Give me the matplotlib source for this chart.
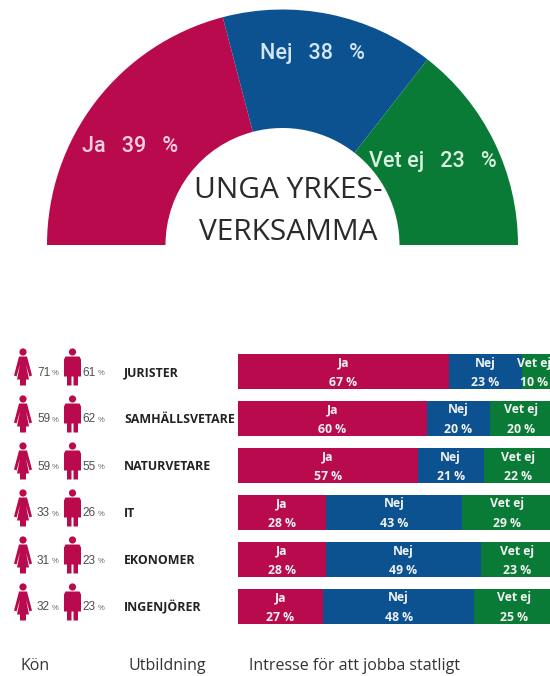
import matplotlib
matplotlib.use('Agg')
import matplotlib.pyplot as plt
from matplotlib.patches import Circle, Polygon, Wedge

# half circle, the slices in the picture are not drawn to their labels
arc_labels = ['Ja   39   %', 'Nej   38   %', 'Vet ej   23   %']
arc_spans = [75.3, 52.7, 52]
arc_colors = ['#b90a4d', '#0c5291', '#0a7b37']
arc_text_colors = ['#f6cfe0', '#d3e6f5', '#d9f1de']

fields = ['JURISTER', 'SAMHÄLLSVETARE', 'NATURVETARE', 'IT', 'EKONOMER', 'INGENJÖRER']
women = [71, 59, 59, 33, 31, 32]
men = [61, 62, 55, 26, 23, 23]
ja = [67, 60, 57, 28, 28, 27]
nej = [23, 20, 21, 43, 49, 48]
vet_ej = [10, 20, 22, 29, 23, 25]

bar_names = ['Ja', 'Nej', 'Vet ej']
headers = ['Kön', 'Utbildning', 'Intresse för att jobba statligt']

W, H = 550, 676
SANS = 'Open Sans'
ICON_COLOR = '#b90a4d'

fig = plt.figure(figsize=(W / 100, H / 100), dpi=100)

# pixel canvas for the text and the icons
bg = fig.add_axes([0, 0, 1, 1])
bg.set_xlim(0, W)
bg.set_ylim(H, 0)
bg.axis('off')

# half circle
angle = 180
for span, color in zip(arc_spans, arc_colors):
    bg.add_patch(Wedge((282.5, 245), 235.5, -angle, -angle + span, width=118.5,
                       facecolor=color, edgecolor='none'))
    angle -= span

arc_text_pos = [(130, 147), (312, 53), (433, 162)]
for label, pos, color in zip(arc_labels, arc_text_pos, arc_text_colors):
    bg.text(pos[0], pos[1], label, color=color, fontsize=15.5, family='Roboto',
            fontweight='medium', ha='center', va='center')

bg.text(288, 191, 'UNGA YRKES-', color='#2a2a2a', fontsize=21.5, family=SANS,
        ha='center', va='center')
bg.text(288, 232, 'VERKSAMMA', color='#2a2a2a', fontsize=21.5, family=SANS,
        ha='center', va='center')


def woman(x, y):
    bg.add_patch(Circle((x, y - 19.5), 3.6, color=ICON_COLOR, lw=0))
    bg.add_patch(Polygon([(x - 4, y - 15), (x + 4, y - 15), (x + 9, y + 4), (x + 6.5, y + 5),
                          (x + 3, y - 7), (x + 6, y + 8), (x + 3, y + 8), (x + 3, y + 14),
                          (x - 3, y + 14), (x - 3, y + 8), (x - 6, y + 8), (x - 3, y - 7),
                          (x - 6.5, y + 5), (x - 9, y + 4)], color=ICON_COLOR, lw=0))


def man(x, y):
    bg.add_patch(Circle((x, y - 19.5), 3.6, color=ICON_COLOR, lw=0))
    bg.add_patch(Polygon([(x - 7, y - 15), (x + 7, y - 15), (x + 8.5, y - 12), (x + 8.5, y + 5),
                          (x + 5.5, y + 5), (x + 5.5, y + 14), (x + 1, y + 14), (x + 1, y + 5),
                          (x - 1, y + 5), (x - 1, y + 14), (x - 5.5, y + 14), (x - 5.5, y + 5),
                          (x - 8.5, y + 5), (x - 8.5, y - 12)], color=ICON_COLOR, lw=0))


rows = [371.5 + i * 47 for i in range(len(fields))]

for i, name in enumerate(fields):
    y = rows[i]
    woman(23, y)
    bg.text(37, y + 1, str(women[i]), color='#4d4d4d', fontsize=8.5, family='Liberation Sans',
            ha='left', va='center')
    bg.text(52, y + 2, '%', color='#666666', fontsize=5.5, family='Liberation Sans',
            ha='left', va='center')
    man(72.5, y)
    bg.text(82, y + 1, str(men[i]), color='#4d4d4d', fontsize=8.5, family='Liberation Sans',
            ha='left', va='center')
    bg.text(98, y + 2, '%', color='#666666', fontsize=5.5, family='Liberation Sans',
            ha='left', va='center')
    bg.text(124, y + 1, name, color='#222222', fontsize=8.9, fontweight='bold', family=SANS,
            ha='left', va='center')

# stacked bars, 100 % runs just past the right edge of the picture
bar_ax = fig.add_axes([238 / W, 0, 315 / W, 1])
bar_ax.set_xlim(0, 100)
bar_ax.set_ylim(H, 0)
bar_ax.axis('off')
bar_ax.patch.set_alpha(0)

left = [0] * len(fields)
for series, color, label in zip([ja, nej, vet_ej], arc_colors, bar_names):
    bar_ax.barh(rows, series, left=left, height=35, color=color, linewidth=0)
    for i, v in enumerate(series):
        # keep the narrow JURISTER label inside the picture
        cx = min(left[i] + v / 2, 94)
        bar_ax.text(cx, rows[i] - 8.5, label, color='#f2f2f2', fontsize=8.8, fontweight='bold',
                    family=SANS, ha='center', va='center')
        bar_ax.text(cx, rows[i] + 11, f'{v} %', color='#f2f2f2', fontsize=8.8, fontweight='bold',
                    family=SANS, ha='center', va='center')
    left = [a + b for a, b in zip(left, series)]

# column headers
for text, x in zip(headers, [21, 128, 249]):
    bg.text(x, 666, text, color='#333333', fontsize=11.5, family=SANS, ha='left', va='center')

fig.savefig('out.png', dpi=100)
